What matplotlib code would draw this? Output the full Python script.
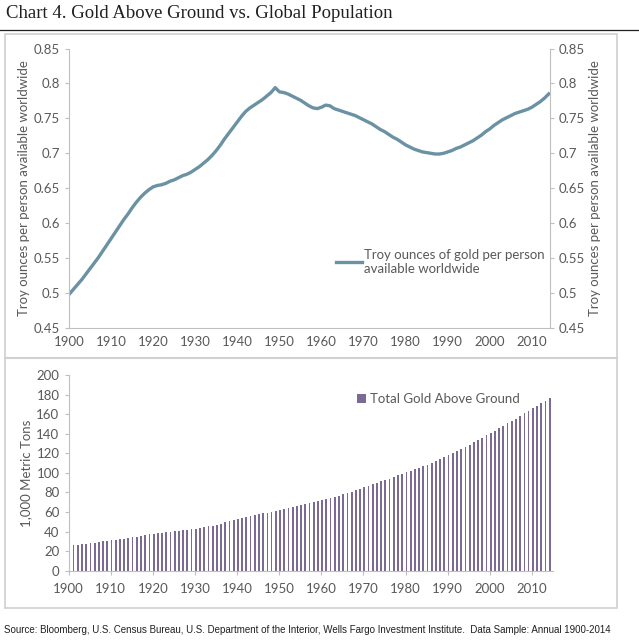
import numpy as np
import matplotlib
matplotlib.use("Agg")
import matplotlib.pyplot as plt
from matplotlib.patches import Rectangle
from matplotlib.lines import Line2D

years = np.arange(1900, 2015)

# troy ounces of gold per person
oz_per_person = [
    0.498, 0.505, 0.512, 0.519, 0.527, 0.535, 0.543, 0.551, 0.560, 0.569,
    0.578, 0.587, 0.596, 0.605, 0.613, 0.622, 0.630, 0.637, 0.643, 0.648,
    0.652, 0.654, 0.655, 0.657, 0.660, 0.662, 0.665, 0.668, 0.670, 0.673,
    0.677, 0.681, 0.686, 0.691, 0.697, 0.704, 0.712, 0.721, 0.729, 0.737,
    0.745, 0.753, 0.760, 0.765, 0.769, 0.773, 0.777, 0.782, 0.787, 0.794,
    0.788, 0.787, 0.785, 0.782, 0.779, 0.776, 0.772, 0.768, 0.765, 0.764,
    0.766, 0.769, 0.768, 0.764, 0.762, 0.760, 0.758, 0.756, 0.754, 0.751,
    0.748, 0.745, 0.742, 0.738, 0.734, 0.731, 0.727, 0.723, 0.720, 0.716,
    0.712, 0.709, 0.706, 0.704, 0.702, 0.701, 0.700, 0.699, 0.699, 0.700,
    0.702, 0.704, 0.707, 0.709, 0.712, 0.715, 0.718, 0.722, 0.726, 0.731,
    0.735, 0.740, 0.744, 0.748, 0.751, 0.754, 0.757, 0.759, 0.761, 0.763,
    0.766, 0.770, 0.774, 0.779, 0.785,
]

# total gold above ground, 1,000 metric tons
gold_tons = [
    25.6, 26.2, 26.7, 27.2, 27.7, 28.2, 28.8, 29.4, 29.9, 30.4,
    30.9, 31.5, 32.1, 32.8, 33.5, 34.2, 34.9, 35.6, 36.3, 37.0,
    37.6, 38.1, 38.7, 39.2, 39.7, 40.2, 40.7, 41.3, 41.9, 42.5,
    43.1, 43.7, 44.4, 45.2, 46.1, 47.1, 48.2, 49.3, 50.5, 51.7,
    52.9, 54.1, 55.2, 56.1, 56.9, 57.7, 58.5, 59.4, 60.3, 61.3,
    62.2, 63.1, 64.0, 64.9, 65.8, 66.8, 67.8, 68.8, 69.8, 70.8,
    71.9, 73.0, 74.2, 75.5, 76.8, 78.1, 79.5, 80.9, 82.3, 83.7,
    85.2, 86.7, 88.2, 89.7, 91.2, 92.7, 94.2, 95.7, 97.3, 98.9,
    100.5, 102.1, 103.7, 105.3, 106.9, 108.5, 110.2, 112.0, 113.9, 115.9,
    117.9, 120.0, 122.1, 124.3, 126.5, 128.8, 131.1, 133.4, 135.8, 138.2,
    140.6, 143.0, 145.5, 148.0, 150.5, 153.0, 155.5, 158.1, 160.7, 163.3,
    165.9, 168.5, 171.1, 173.7, 176.0,
]

line_color = "#6a92a3"
bar_color = "#7b6a93"
text_gray = "#595959"
axis_gray = "#bfbfbf"
plt.rcParams["font.family"] = ["Lato", "DejaVu Sans"]
fs = 9.5

fig = plt.figure(figsize=(6.39, 6.40), dpi=100)
W, H = 639, 640

def fx(px):
    return px / W

def fy(py):
    return 1 - py / H

# title and rule
fig.text(fx(6), fy(13), "Chart 4. Gold Above Ground vs. Global Population",
         family=["Liberation Serif", "DejaVu Serif"], fontsize=13.5,
         color="#231f20", va="center", ha="left")
fig.add_artist(Line2D([0, 1], [fy(30), fy(30)], color="#231f20", lw=0.9))

# panel frames
fig.add_artist(Rectangle((fx(5), fy(608)), fx(612), (608 - 34) / H,
                         fill=False, ec="#d0d0d0", lw=1.2))
fig.add_artist(Line2D([fx(5), fx(617)], [fy(358), fy(358)], color="#d0d0d0", lw=1.5))

# top panel
ax1 = fig.add_axes([fx(69), fy(328), fx(550 - 69), (328 - 48.5) / H])
ax1.plot(years, oz_per_person, color=line_color, lw=2.4,
         label="Troy ounces of gold per person\navailable worldwide")
ax1.set_xlim(1900, 2014.3)
ax1.set_ylim(0.45, 0.85)
yt = np.arange(0.45, 0.851, 0.05)
ylabels = ["0.45", "0.5", "0.55", "0.6", "0.65", "0.7", "0.75", "0.8", "0.85"]
ax1.set_yticks(yt, ylabels)
ax1.set_xticks(np.arange(1900, 2011, 10))
ax2 = ax1.twinx()
ax2.set_ylim(0.45, 0.85)
ax2.set_yticks(yt, ylabels)
for a in (ax1, ax2):
    for s in a.spines.values():
        s.set_visible(False)
    a.tick_params(colors=text_gray, labelsize=fs, length=3, color=axis_gray)
ax1.spines["left"].set_visible(True)
ax1.spines["bottom"].set_visible(True)
ax2.spines["right"].set_visible(True)
for s in ("left", "bottom"):
    ax1.spines[s].set_color(axis_gray)
ax2.spines["right"].set_color(axis_gray)
ax1.tick_params(axis="x", length=0, pad=6)
ax1.set_ylabel("Troy ounces per person available worldwide", color=text_gray,
               fontsize=fs, labelpad=3)
ax2.set_ylabel("Troy ounces per person available worldwide", color=text_gray,
               fontsize=fs, labelpad=3)
ax1.legend(loc="upper left", bbox_to_anchor=(0.53, 0.325), frameon=False,
           fontsize=fs, handlelength=2.0, handletextpad=0.15,
           labelcolor=text_gray, labelspacing=0.2)

# bottom panel
ax3 = fig.add_axes([fx(68.5), fy(570.7), fx(553 - 68.5), (570.7 - 375) / H])
ax3.bar(years, gold_tons, width=0.42, align="edge", color=bar_color,
        label="Total Gold Above Ground")
ax3.set_xlim(1900, 2015)
ax3.set_ylim(0, 200)
ax3.set_yticks(np.arange(0, 201, 20))
ax3.set_xticks(np.arange(1900, 2011, 10))
for s in ("top", "right"):
    ax3.spines[s].set_visible(False)
for s in ("left", "bottom"):
    ax3.spines[s].set_color(axis_gray)
ax3.tick_params(colors=text_gray, labelsize=fs, length=3, color=axis_gray)
ax3.tick_params(axis="x", pad=6)
ax3.set_ylabel("1,000 Metric Tons", color=text_gray, fontsize=fs, labelpad=3)
ax3.legend(loc="upper left", bbox_to_anchor=(0.57, 0.97), frameon=False,
           fontsize=fs, handlelength=0.7, handleheight=0.7, handletextpad=0.3,
           labelcolor=text_gray)

# source note
fig.text(fx(4), fy(630), "Source: Bloomberg, U.S. Census Bureau, U.S. Department of the Interior, "
         "Wells Fargo Investment Institute.  Data Sample: Annual 1900-2014",
         family=["Liberation Sans", "DejaVu Sans"], fontsize=7.0, color="#231f20",
         va="center", ha="left")

fig.savefig("out.png", dpi=100)
